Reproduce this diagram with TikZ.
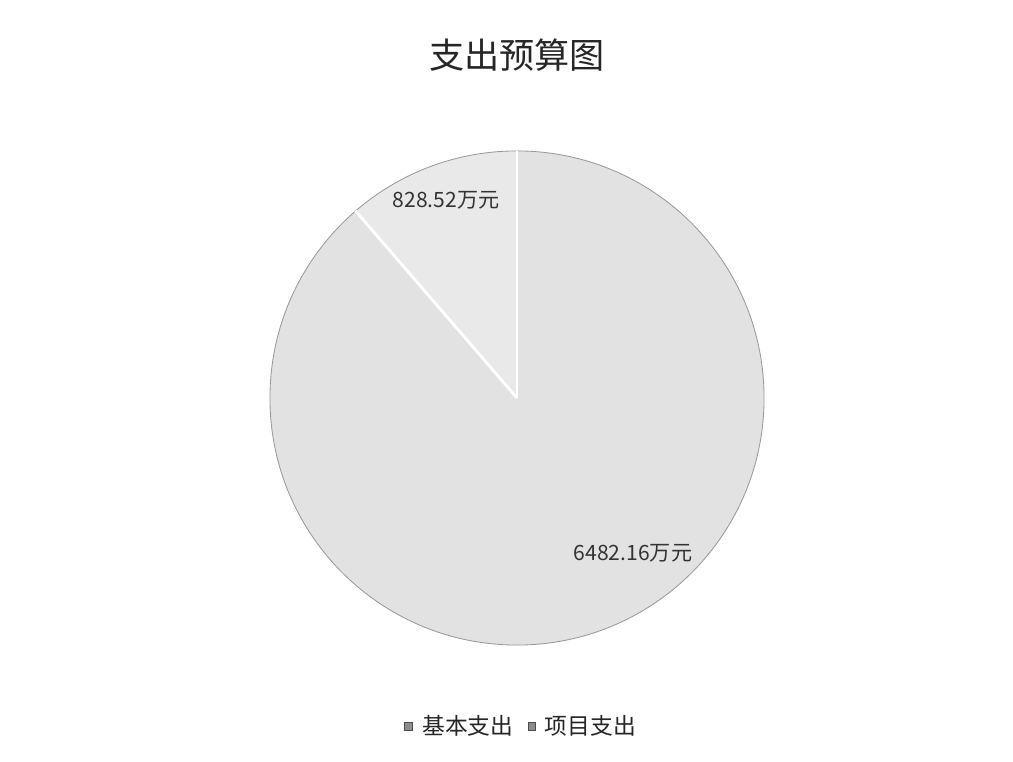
\documentclass[tikz,border=0pt]{standalone}
\usepackage{fontspec}
\newfontfamily\cjk{Noto Sans CJK SC}
\usetikzlibrary{positioning}

\definecolor{sliceA}{HTML}{E2E2E2}
\definecolor{sliceB}{HTML}{E9E9E9}
\definecolor{rim}{HTML}{9A9A9A}

\tikzset{
  vallabel/.style={font=\cjk\fontsize{15}{17}\selectfont, text=black!80, inner sep=0pt},
  legbox/.style={draw=black!70, fill=black!45, minimum size=5.5pt, inner sep=0pt},
  legtext/.style={font=\cjk\fontsize{16.2}{18}\selectfont, text=black!85, inner sep=0pt}
}

\begin{document}
\begin{tikzpicture}[x=0.025cm,y=0.025cm]
\useasboundingbox[fill=white] (0,0) rectangle (1013,762);

% pie: centre and radius
\coordinate (C) at (517,364);
\def\pr{6.175cm}

\fill[sliceA] (C) -- ++(90:\pr) arc (90:-229.2:\pr) -- cycle;
\fill[sliceB] (C) -- ++(90:\pr) arc (90:130.8:\pr) -- cycle;
\draw[rim, line width=0.6pt] (C) circle (\pr);
\draw[white, line width=2pt] (C) -- ++(90:\pr);
\draw[white, line width=2pt] (C) -- ++(130.8:\pr);

\node[font=\cjk\fontsize{25}{28}\selectfont, text=black!85] (title) at (517,707) {支出预算图};

\node[vallabel] (small) at (446,562) {828.52万元};
\node[vallabel] (big) at (633,209) {6482.16万元};

\node[legbox] (k1) at (408,36) {};
\node[legtext, right=7pt of k1] (t1) {基本支出};
\node[legbox, right=10pt of t1] (k2) {};
\node[legtext, right=6pt of k2] (t2) {项目支出};
\end{tikzpicture}
\end{document}
